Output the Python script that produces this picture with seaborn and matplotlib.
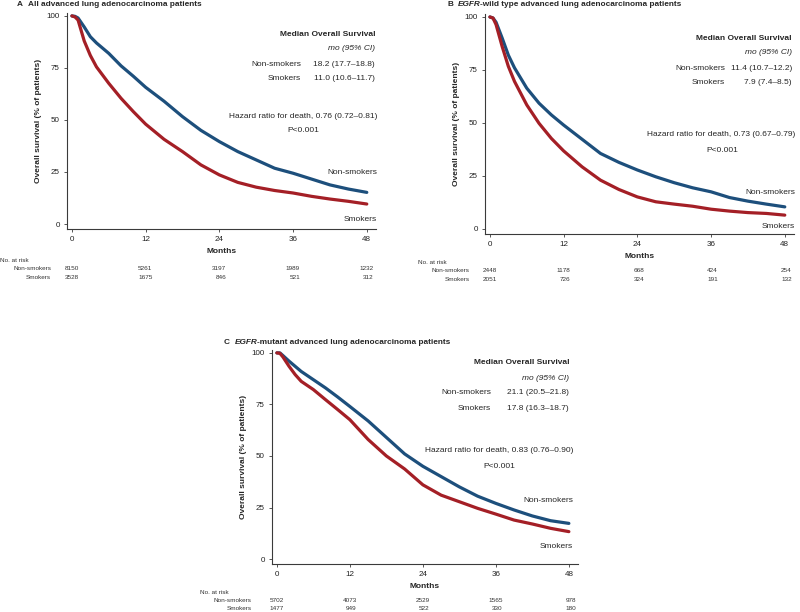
import numpy as np
import pandas as pd
import matplotlib
matplotlib.use("Agg")
import matplotlib.pyplot as plt
import seaborn as sns

# ==========================================
# data
# ==========================================
months = [0, 0.5, 1, 2, 3, 4, 6, 8, 10, 12, 15, 18, 21, 24, 27, 30, 33, 36, 39, 42, 45, 48]

# A: all patients
a_nonsmk = [100, 99.8, 99, 94.7, 90, 87, 82, 76, 71, 65.7, 59, 51.6, 45, 39.6,
            34.8, 30.8, 26.8, 24.4, 21.6, 18.8, 16.8, 15.2]
a_smk = [100, 99.5, 98, 88, 81, 75.5, 67.6, 60.4, 54, 48, 40.7, 34.8, 28.4, 23.6,
         20, 17.7, 16.1, 14.9, 13.3, 12, 10.9, 9.6]
# B: EGFR wild type
b_nonsmk = [100, 99.5, 97.5, 90, 82, 76, 66.4, 59.3, 53.8, 49, 42.3, 35.6, 31.4,
            27.8, 24.6, 21.8, 19.4, 17.5, 14.8, 13.1, 11.7, 10.4]
b_smk = [100, 99.5, 96.4, 86, 76.7, 69.6, 58.5, 49.8, 42.7, 36.8, 29.3, 23, 18.6,
         15.1, 12.8, 11.7, 10.7, 9.3, 8.4, 7.7, 7.3, 6.5]
# C: EGFR mutant
c_nonsmk = [100, 100, 98.7, 96, 93.5, 91, 87, 83, 78.6, 74, 67, 59, 51, 45, 40,
            35, 30.5, 27, 23.8, 20.9, 18.6, 17.3]
c_smk = [100, 99.8, 98, 93.5, 89.5, 86.2, 82.2, 77.3, 72.5, 67.6, 58, 50, 43.7,
         36, 31, 27.8, 24.6, 21.8, 18.9, 17, 14.9, 13.3]

risk_months = [0, 12, 24, 36, 48]
a_risk_nonsmk = [8150, 5261, 3197, 1989, 1232]
a_risk_smk = [3528, 1675, 846, 521, 312]
b_risk_nonsmk = [2448, 1178, 668, 424, 254]
b_risk_smk = [2051, 726, 324, 191, 132]
c_risk_nonsmk = [5702, 4073, 2529, 1565, 978]
c_risk_smk = [1477, 949, 522, 330, 180]

a_median = ["18.2 (17.7\u201318.8)", "11.0 (10.6\u201311.7)"]
b_median = ["11.4 (10.7\u201312.2)", "7.9 (7.4\u20138.5)"]
c_median = ["21.1 (20.5\u201321.8)", "17.8 (16.3\u201318.7)"]
a_hr = "Hazard ratio for death, 0.76 (0.72\u20130.81)"
b_hr = "Hazard ratio for death, 0.73 (0.67\u20130.79)"
c_hr = "Hazard ratio for death, 0.83 (0.76\u20130.90)"

BLUE = "#1d4f7c"
RED = "#a41f26"

sns.set_theme(style="ticks")
plt.rcParams['font.family'] = ['Liberation Sans', 'DejaVu Sans']

W, H = 800, 612
fig = plt.figure(figsize=(8, 6.12), dpi=100)


def fx(px):
    return px / W


def fy(py):
    return 1 - py / H


def km_panel(box, nonsmk, smk, risk_n, risk_s, med, hr, txt, tab):
    l, t, r, b = box
    ax = fig.add_axes([fx(l), fy(b), (r - l) / W, (b - t) / H])
    df = pd.DataFrame({
        "month": months * 2,
        "surv": nonsmk + smk,
        "grp": ["Non-smokers"] * len(months) + ["Smokers"] * len(months),
    })
    sns.lineplot(data=df, x="month", y="surv", hue="grp",
                 palette={"Non-smokers": BLUE, "Smokers": RED},
                 linewidth=2.3, legend=False, ax=ax)
    ax.set_xlim(-0.8, 49.5)
    ax.set_ylim(-2.4, 101.4)
    ax.set_xticks(risk_months)
    ax.set_yticks([0, 25, 50, 75, 100])
    sns.despine(ax=ax)
    for s in ["left", "bottom"]:
        ax.spines[s].set_color("#3a3a3a")
        ax.spines[s].set_linewidth(0.8)
    ax.tick_params(direction="out", length=2.2, width=0.6, pad=3,
                   labelsize=5.8, colors="#3a3a3a", labelcolor="#222222")
    ax.set_xlabel("Months", fontsize=6, fontweight="bold", labelpad=3.5)
    ax.set_ylabel("Overall survival (% of patients)", fontsize=6,
                  fontweight="bold", labelpad=3.5)

    # median survival block
    rx, lx = txt["right"], txt["lab"]
    fig.text(fx(rx), fy(txt["y0"]), "Median Overall Survival", ha="right",
             va="center", fontsize=6, fontweight="bold")
    fig.text(fx(rx), fy(txt["y0"] + 15), "mo (95% CI)", ha="right",
             va="center", fontsize=6, fontstyle="italic")
    fig.text(fx(lx), fy(txt["y0"] + 30), "Non-smokers", ha="right", va="center", fontsize=6)
    fig.text(fx(rx), fy(txt["y0"] + 30), med[0], ha="right", va="center", fontsize=6)
    fig.text(fx(lx), fy(txt["y0"] + 45), "Smokers", ha="right", va="center", fontsize=6)
    fig.text(fx(rx), fy(txt["y0"] + 45), med[1], ha="right", va="center", fontsize=6)
    fig.text(fx(txt["hr_x"]), fy(txt["hr_y"]), hr, ha="right", va="center", fontsize=6)
    fig.text(fx(txt["p_x"]), fy(txt["hr_y"] + 15), "P<0.001", ha="center",
             va="center", fontsize=6)
    fig.text(fx(txt["hr_x"]), fy(txt["ns_y"]), "Non-smokers", ha="right", va="center", fontsize=6)
    fig.text(fx(txt["hr_x"]), fy(txt["s_y"]), "Smokers", ha="right", va="center", fontsize=6)

    # number at risk
    fig.text(fx(tab["x"]), fy(tab["y"]), "No. at risk", ha="left", va="center",
             fontsize=4.6, color="#333333")
    fig.text(fx(tab["rx"]), fy(tab["y"] + 8), "Non-smokers", ha="right", va="center",
             fontsize=4.6, color="#333333")
    fig.text(fx(tab["rx"]), fy(tab["y"] + 17), "Smokers", ha="right", va="center",
             fontsize=4.6, color="#333333")
    for m, n1, n2 in zip(risk_months, risk_n, risk_s):
        ax.annotate(str(n1), xy=(m, fy(tab["y"] + 8)), xycoords=("data", "figure fraction"),
                    xytext=(5, 0), textcoords="offset points", ha="right", va="center",
                    fontsize=4.6, color="#333333", annotation_clip=False)
        ax.annotate(str(n2), xy=(m, fy(tab["y"] + 17)), xycoords=("data", "figure fraction"),
                    xytext=(5, 0), textcoords="offset points", ha="right", va="center",
                    fontsize=4.6, color="#333333", annotation_clip=False)
    return ax


def panel_title(px, py, letter, italic, rest):
    t1 = fig.text(fx(px), fy(py), letter, ha="left", va="center",
                  fontsize=5.95, fontweight="bold")
    if italic:
        t2 = plt.annotate(italic, xy=(1, 0.5), xycoords=t1, xytext=(3.3, 0),
                          textcoords="offset points", va="center", ha="left",
                          fontsize=5.95, fontweight="bold", fontstyle="italic")
        plt.annotate(rest, xy=(1, 0.5), xycoords=t2, va="center", ha="left",
                     fontsize=5.95, fontweight="bold")
    else:
        plt.annotate(rest, xy=(1, 0.5), xycoords=t1, xytext=(3.5, 0),
                     textcoords="offset points", va="center", ha="left",
                     fontsize=5.95, fontweight="bold")


km_panel((67, 13, 376, 229), a_nonsmk, a_smk, a_risk_nonsmk, a_risk_smk, a_median, a_hr,
         dict(right=375, lab=301, y0=34, hr_x=377, hr_y=116, p_x=303, ns_y=172, s_y=219),
         dict(x=0, y=261, rx=51))
km_panel((485, 14, 794, 234), b_nonsmk, b_smk, b_risk_nonsmk, b_risk_smk, b_median, b_hr,
         dict(right=792, lab=725, y0=38, hr_x=795, hr_y=135, p_x=722, ns_y=193, s_y=227),
         dict(x=418, y=263, rx=470))
km_panel((272, 350, 578, 564), c_nonsmk, c_smk, c_risk_nonsmk, c_risk_smk, c_median, c_hr,
         dict(right=569, lab=491, y0=363, hr_x=573, hr_y=451, p_x=499, ns_y=500, s_y=547),
         dict(x=200, y=592, rx=252))

panel_title(17, 4, "A", None, "All advanced lung adenocarcinoma patients")
panel_title(447, 5, "B", "EGFR", "-wild type advanced lung adenocarcinoma patients")
panel_title(224, 342, "C", "EGFR", "-mutant advanced lung adenocarcinoma patients")

fig.savefig("out.png", dpi=100)
